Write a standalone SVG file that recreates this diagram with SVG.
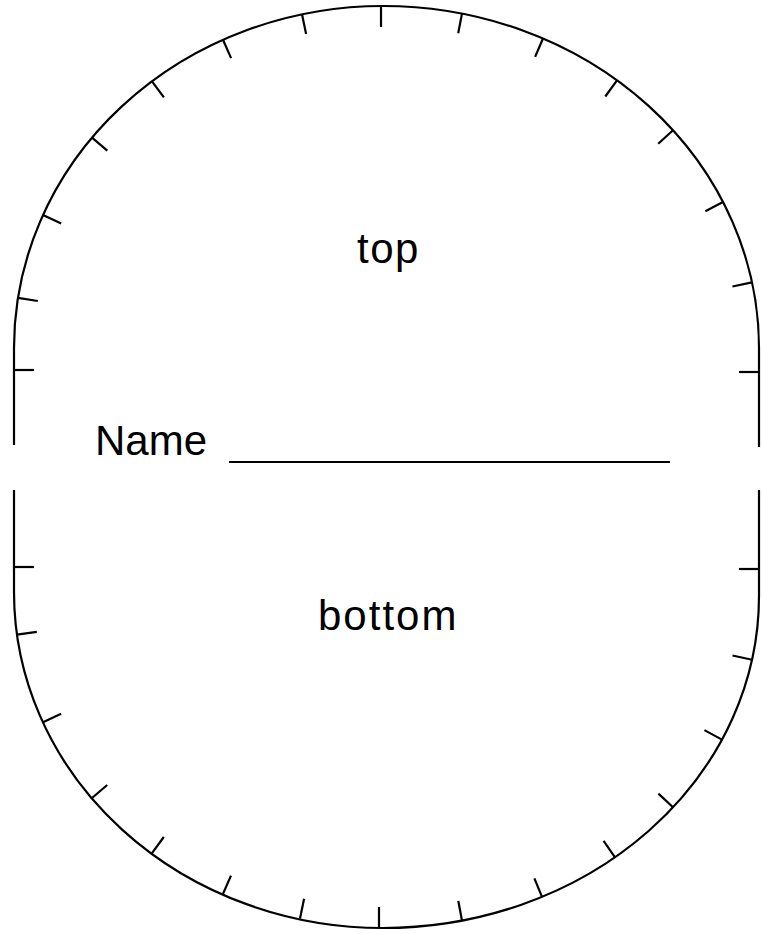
<svg xmlns="http://www.w3.org/2000/svg" width="762" height="934" viewBox="0 0 762 934">
<style>
.o{fill:none;stroke:#000;stroke-width:2.2}
.t{stroke:#000;stroke-width:2.2;stroke-linecap:butt}
.lbl{font-family:"Liberation Sans",Arial,sans-serif;font-size:42px;fill:#000}
</style>
<rect width="762" height="934" fill="#fff"/>
<g id="top-outline">
<path class="o" d="M14,445 L14,348 A369,342 0 0 1 383,6 A376,342 0 0 1 759,348 L759,447"/>
</g>
<g id="bottom-outline">
<path class="o" d="M14,490 L14,592 A369,336 0 0 0 383,928 A376,332 0 0 0 759,596 L759,490"/>
</g>
<g id="ticks" class="t">
<line x1="381" y1="6" x2="381" y2="27"/>
<line x1="302" y1="14.3" x2="306.1" y2="33.9"/>
<line x1="223" y1="39.8" x2="231.1" y2="58.1"/>
<line x1="152" y1="81.3" x2="163.9" y2="97.4"/>
<line x1="92" y1="137.7" x2="107.3" y2="150.6"/>
<line x1="43" y1="215.1" x2="61.2" y2="223.4"/>
<line x1="18" y1="297.8" x2="37.8" y2="301"/>
<line x1="462" y1="13.6" x2="458.2" y2="33.3"/>
<line x1="543" y1="38.5" x2="535.1" y2="56.9"/>
<line x1="617" y1="80.3" x2="605.3" y2="96.5"/>
<line x1="673" y1="130.3" x2="658.2" y2="143.7"/>
<line x1="723" y1="202" x2="705.3" y2="211.2"/>
<line x1="752" y1="282.3" x2="732.4" y2="286.5"/>
<line x1="14" y1="370" x2="34" y2="370"/>
<line x1="759" y1="372" x2="739" y2="372"/>
<line x1="14" y1="567" x2="34" y2="567"/>
<line x1="759" y1="569" x2="739" y2="569"/>
<line x1="17" y1="634.6" x2="36.8" y2="631.8"/>
<line x1="43" y1="722.2" x2="61.1" y2="713.8"/>
<line x1="92" y1="798" x2="107.2" y2="785"/>
<line x1="152" y1="853.2" x2="163.8" y2="837"/>
<line x1="223" y1="893.9" x2="231" y2="875.6"/>
<line x1="300" y1="918.4" x2="304.1" y2="898.8"/>
<line x1="379" y1="928" x2="379" y2="907"/>
<line x1="462" y1="920.6" x2="458.3" y2="900.9"/>
<line x1="542" y1="896.9" x2="534.4" y2="878.4"/>
<line x1="615" y1="857.3" x2="603.6" y2="840.9"/>
<line x1="673" y1="807.3" x2="658.4" y2="793.6"/>
<line x1="722" y1="739.6" x2="704.4" y2="730.1"/>
<line x1="752" y1="659.8" x2="732.5" y2="655.5"/>
</g>
<g id="label-top"><text class="lbl" x="357" y="263" letter-spacing="1.5">top</text></g>
<g id="label-name">
<text class="lbl" x="95" y="455">Name</text>
<line class="t" x1="229" y1="462" x2="670" y2="462"/>
</g>
<g id="label-bottom"><text class="lbl" x="318" y="630" letter-spacing="2">bottom</text></g>
</svg>
